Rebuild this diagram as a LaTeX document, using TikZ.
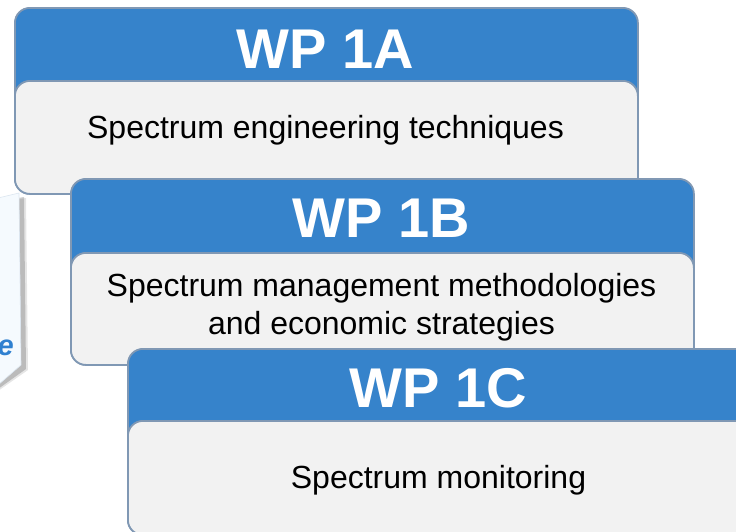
\documentclass[tikz,border=0pt]{standalone}
\usepackage{fontspec}
\setmainfont{Liberation Sans}
\definecolor{wpblue}{HTML}{3683CB}
\definecolor{wpline}{HTML}{8098B4}
\definecolor{wpgray}{HTML}{F2F2F2}
\definecolor{panelfill}{HTML}{F5FAFE}
\definecolor{panelline}{HTML}{DCE6F0}
\definecolor{eblue}{HTML}{2F80D0}
\tikzset{
  hdr/.style={fill=wpblue, draw=wpline, line width=1.8pt, rounded corners=15pt,
    inner sep=0pt, minimum width=623pt, minimum height=186pt, anchor=north west},
  bdy/.style={fill=wpgray, draw=wpline, line width=1.8pt, rounded corners=15pt,
    inner sep=0pt, anchor=south west},
  ttl/.style={text=white, font=\fontsize{56}{56}\selectfont\bfseries, anchor=base, inner sep=0pt},
  txt/.style={text=black, font=\fontsize{32}{39}\selectfont, anchor=base, inner sep=0pt}
}
\begin{document}
\begin{tikzpicture}[x=1pt,y=-1pt]
\useasboundingbox (0,0) rectangle (736,531);
\clip (0,0) rectangle (736,531);
\fill[white] (0,0) rectangle (736,531);
% partial panel at left edge
\fill[black, opacity=0.18] (-2,201) -- (24,197) -- (26,369) -- (-2,389) -- cycle;
\fill[black, opacity=0.10] (-2,202) -- (26,198) -- (28,370) -- (-2,391) -- cycle;
\draw[fill=panelfill, draw=panelline, line width=0.6pt] (-2,198) -- (19,193) -- (21,365) -- (-2,385) -- cycle;
\node[text=eblue, font=\fontsize{29}{29}\selectfont\bfseries\itshape, anchor=base east, inner sep=0pt] (e) at (14,355) {e};
% WP 1A
\node[hdr] (A) at (14,7) {};
\node[bdy, minimum width=623pt, minimum height=113pt] (Ab) at (A.south west) {};
\node[ttl] (At) at (325.5,68) {WP 1A};
\node[txt] (Ax) at (325.5,138) {Spectrum engineering techniques};
% WP 1B
\node[hdr] (B) at (70,178) {};
\node[bdy, minimum width=623pt, minimum height=112pt] (Bb) at (B.south west) {};
\node[ttl] (Bt) at (381.5,237) {WP 1B};
\node[txt] (Bx1) at (381.5,296) {Spectrum management methodologies};
\node[txt] (Bx2) at (381.5,334) {and economic strategies};
% WP 1C
\node[hdr] (C) at (127,348) {};
\node[bdy, minimum width=623pt, minimum height=114pt] (Cb) at (C.south west) {};
\node[ttl] (Ct) at (438.5,407) {WP 1C};
\node[txt] (Cx) at (438.5,488) {Spectrum monitoring};
\end{tikzpicture}
\end{document}
